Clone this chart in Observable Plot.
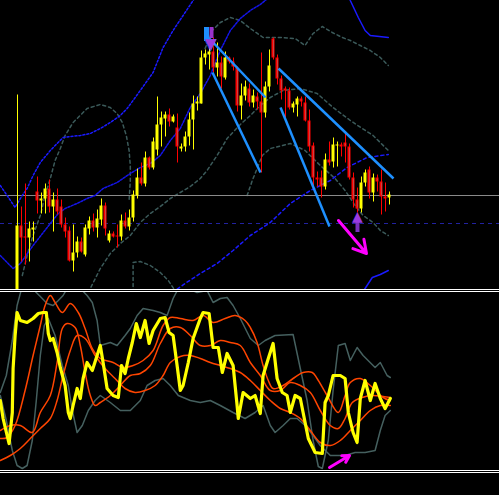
<!DOCTYPE html>
<html><head><meta charset="utf-8">
<script src="https://cdn.jsdelivr.net/npm/d3@7"></script>
<script src="https://cdn.jsdelivr.net/npm/@observablehq/plot@0.6"></script>
<style>
html,body{margin:0;padding:0;background:#000;}
#chart{width:499px;height:495px;background:#000;overflow:hidden;}
#pricePane{border-bottom:3px double #fff;height:289px;}
#oscPane{border-bottom:3px double #fff;height:178px;}
svg{display:block;}
</style></head><body>
<div id="chart"><div id="pricePane"></div><div id="oscPane"></div></div>
<script>
// ---- candles (bar index 0..93), prices in chart units ----
const openP  = [-5,74,63,62,70,108,99,101,111,93,100,93,75,69,39,47,58,45,71,79,72,80,94,59,66,64,63,79,73,82,104,122,116,142,132,150,175,181,185,178,172,151,153,163,180,196,196,242,245,248,232,237,222,242,238,232,194,204,211,197,203,198,187,213,261,242,221,211,209,192,195,201,197,179,154,122,122,113,140,138,154,155,157,153,122,100,91,117,130,107,122,118,103,102];
const highP  = [205,93,116,78,78,123,107,116,120,107,111,100,82,73,75,63,62,75,83,86,90,101,97,69,68,75,85,87,90,109,131,137,148,143,162,203,188,188,191,185,186,156,168,187,204,203,249,250,256,262,257,243,248,243,242,233,216,219,216,210,207,247,218,250,262,245,224,213,212,198,203,203,203,190,157,128,129,146,158,162,158,157,168,156,127,112,123,130,133,126,125,130,117,108];
const lowP   = [-10,38,35,38,58,86,86,86,87,68,85,72,62,38,28,42,47,43,65,68,62,74,64,57,62,52,59,71,69,78,101,114,113,130,130,144,153,163,173,177,137,148,148,154,150,189,196,235,230,227,223,211,220,236,229,188,180,199,193,192,190,127,182,208,240,215,200,182,190,187,183,193,178,148,112,113,102,110,134,132,133,143,137,120,92,87,87,113,101,98,108,85,88,95];
const closeP = [74,62,62,71,72,99,101,111,93,100,88,75,68,39,47,58,48,72,79,72,81,94,71,66,63,63,79,73,82,105,122,116,142,132,158,175,182,185,178,183,153,153,163,180,196,198,242,246,248,232,237,223,242,238,233,194,204,213,197,204,198,187,213,234,242,221,209,209,192,196,201,198,179,153,122,120,113,140,137,155,155,153,153,122,100,91,117,127,107,122,118,103,101,105];

// reference levels
const bidLevel = 105;
const dashedLevel = 77;

// price-panel bands: [bar, price]
const outerUpperA = [[-4.3,115],[-2.6,105],[-0.6,93],[0.7,102],[2.4,112],[3.9,125],[5.7,138],[8.2,150],[9.9,157],[11.4,163],[13.2,164],[15.7,165],[18.2,167],[20.7,172],[23.2,178],[25.7,185],[27.4,192],[28.9,200],[30.7,210],[33.9,228],[36.4,253],[38.9,270],[41.4,285],[43.9,300],[45.7,312]];
const outerUpperB = [[81.9,312],[83.2,300],[85.2,283],[86.9,270],[88.2,265],[92.7,263]];
const midBand = [[-4.3,45],[-1.1,32],[0.7,37],[3.9,55],[8.2,77],[10.2,87],[11.9,92],[14.9,97],[17.4,102],[19.4,105],[21.4,112],[24.9,118],[28.2,127],[30.7,133],[33.2,137],[35.7,145],[38.2,160],[40.7,172],[43.2,193],[45.7,207],[48.2,225],[50.7,250],[53.2,270],[55.7,282],[58.2,290],[60.7,296],[61.9,300],[64.4,308]];
const outerLowerA = [[38.7,8],[41.9,17],[45.7,27],[49.9,37],[53.9,50],[58.2,65],[63.2,78],[68.2,97],[73.2,110],[78.2,120],[82.4,133],[87.4,143],[92.7,146]];
const outerLowerB = [[85.7,5],[86.9,12],[88.7,23],[90.7,26],[92.7,30]];
const innerA = [[1.2,25],[2.4,45],[3.9,65],[5.7,85],[6.9,105],[8.2,122],[9.4,140],[10.7,152],[11.9,165],[13.9,178],[17.4,192],[20.7,196],[23.2,193],[24.9,187],[26.2,178],[27.2,165],[27.9,150],[28.2,135],[28.2,120],[27.9,100]];
const innerB = [[28.9,8],[28.9,38],[30.7,39],[33.2,35],[35.7,28],[37.7,20],[39.7,8]];
const innerC = [[17.7,8],[20.7,32],[23.2,47],[25.7,57],[28.2,65],[30.7,78],[33.2,87],[35.7,94],[38.2,102],[40.7,108],[43.2,114],[45.7,122],[47.4,130],[49.9,145],[52.4,162],[55.7,176],[58.2,185],[60.7,195],[63.2,203],[66.4,210],[70.7,212],[74.9,207],[78.9,193],[83.2,180],[86.2,172],[88.9,165],[92.7,150]];
const innerD = [[46.9,252],[48.7,270],[50.7,278],[53.2,283],[55.7,280],[58.2,272],[61.4,263],[65.7,263],[69.4,262],[71.9,255],[73.9,267],[76.2,274],[78.7,268],[81.2,263],[83.2,260],[85.7,255],[88.2,250],[90.7,243],[92.7,235]];
const innerE = [[57.4,105],[58.7,120],[61.2,145],[63.2,152],[68.2,157],[71.9,150],[75.7,135],[79.4,122],[81.9,110],[84.4,95],[86.4,85],[88.9,78],[90.7,70],[92.7,65]];

// trend lines drawn on the chart: [bar1, price1, bar2, price2]
const trendLines = [[47,266,62,203],[65.25,232,94,122],[48.75,228,60.75,128],[65.75,193,78,74]];
const priceArrow = [[80.25,80,87.25,47]];
const sellSignal = [{bar:48, top:273, tip:256}];
const buySignal  = [{bar:85, bottom:68, tip:84}];

// oscillator panel: [bar, value]
const oscMain = [[-4.3,70],[-3.6,52],[-2.6,35],[-2.1,27],[-1.3,58],[-1.1,102],[-0.6,135],[-0.1,158],[0.7,150],[2.4,148],[3.9,152],[5.2,157],[6.4,158],[7.2,158],[7.7,137],[8.2,130],[8.9,132],[9.9,118],[10.7,103],[11.9,85],[12.7,58],[13.2,52],[13.9,65],[14.9,82],[15.7,72],[16.4,92],[17.4,108],[18.7,100],[19.9,115],[20.7,125],[21.4,108],[22.4,82],[23.9,75],[25.2,73],[26.0,105],[26.9,97],[27.7,112],[28.7,128],[29.7,147],[30.7,133],[31.9,150],[32.9,127],[33.9,140],[35.7,152],[36.9,153],[37.9,138],[38.9,135],[39.9,105],[40.7,80],[41.4,85],[42.7,108],[43.9,132],[45.7,152],[46.4,158],[47.9,157],[48.9,123],[50.2,123],[51.2,98],[52.4,117],[53.9,105],[54.9,65],[55.2,52],[56.4,78],[58.2,72],[59.4,75],[60.7,57],[61.4,95],[62.7,112],[63.9,127],[64.9,92],[66.2,78],[67.4,75],[68.2,58],[69.4,75],[70.7,72],[71.4,58],[72.7,32],[74.4,18],[76.2,17],[76.9,68],[77.7,75],[78.9,95],[80.7,95],[81.9,92],[82.7,58],[83.9,38],[84.9,28],[85.7,72],[86.9,90],[88.2,70],[89.4,87],[90.7,72],[91.9,62],[93.2,72]];
const oscSignalFast = [[-4.3,32],[-2.6,33],[-0.6,45],[1.9,80],[3.9,115],[5.7,145],[6.9,165],[8.2,175],[9.4,168],[11.2,158],[13.2,167],[15.2,158],[16.9,142],[18.7,122],[20.7,112],[23.9,108],[26.4,103],[28.9,105],[31.4,110],[33.9,120],[36.4,145],[38.2,153],[40.7,152],[43.9,150],[46.4,155],[48.9,148],[51.9,152],[54.4,155],[56.9,150],[58.2,143],[59.9,128],[61.4,105],[62.7,90],[63.9,82],[66.4,85],[68.9,92],[71.4,98],[73.7,98],[74.9,92],[77.4,75],[80.2,58],[81.9,75],[83.2,88],[85.7,92],[88.2,85],[91.4,73],[93.2,70]];
const oscSignalMid = [[-4.3,40],[-1.8,45],[0.7,45],[3.7,38],[5.7,58],[8.2,75],[9.9,108],[11.2,142],[12.4,147],[14.4,143],[15.7,125],[16.9,98],[18.2,75],[19.4,65],[20.7,68],[23.2,75],[25.7,85],[28.2,95],[30.7,97],[33.2,105],[35.7,127],[38.2,142],[40.7,143],[43.2,135],[45.7,125],[48.2,125],[50.7,130],[53.2,128],[55.7,125],[58.2,108],[60.7,95],[63.2,80],[65.7,80],[68.2,88],[70.7,85],[73.2,78],[75.7,60],[78.2,45],[80.2,42],[81.9,52],[83.7,68],[86.2,73],[88.7,75],[93.2,73]];
const oscSignalSlow = [[-4.3,10],[-1.8,15],[0.7,22],[3.2,32],[5.7,42],[8.2,52],[9.9,70],[11.4,95],[13.2,120],[14.9,135],[16.9,132],[19.4,115],[21.9,102],[24.4,92],[26.9,82],[29.4,78],[31.9,80],[34.4,85],[36.4,95],[38.2,108],[40.7,114],[43.2,115],[45.7,112],[48.2,108],[50.7,105],[53.2,102],[55.7,98],[58.2,90],[60.7,80],[63.2,70],[65.7,62],[68.2,58],[70.7,52],[73.2,40],[75.7,28],[78.2,25],[80.7,30],[83.2,40],[85.7,50],[88.2,60],[90.7,65],[93.2,65]];
const oscBandUpper = [[-4.3,78],[-2.8,95],[-1.3,130],[-0.1,165],[0.9,180],[2.2,187],[3.7,182],[5.7,174],[7.4,167],[8.9,165],[10.2,170],[11.4,175],[12.4,182],[13.7,186],[15.7,182],[17.4,175],[18.7,168],[19.9,150],[20.7,125],[23.2,128],[24.9,125],[26.9,135],[28.2,142],[29.9,155],[31.4,162],[33.9,160],[35.7,158],[37.4,155],[38.9,172],[40.2,182],[41.9,184],[43.7,180],[44.9,178],[47.4,180],[48.9,168],[50.7,172],[52.4,173],[53.9,165],[55.7,152],[58.2,132],[60.2,125],[61.9,130],[64.4,135],[68.9,136],[70.7,102],[72.4,70],[73.9,30],[75.2,4],[76.2,2],[77.7,30],[78.9,80],[80.2,125],[81.9,127],[83.2,110],[84.9,123],[86.4,115],[89.4,103],[90.7,108],[92.4,95],[93.2,93]];
const oscBandLower = [[-4.3,75],[-2.8,50],[-1.3,20],[-0.1,5],[1.2,2],[2.4,5],[3.7,30],[4.7,70],[5.7,115],[6.7,145],[7.7,152],[9.4,135],[11.2,105],[12.7,85],[13.7,60],[14.9,38],[16.2,45],[17.7,60],[19.4,70],[20.7,75],[23.2,68],[25.7,60],[28.2,60],[30.7,70],[32.4,85],[34.4,90],[36.4,92],[38.2,85],[40.2,75],[43.2,70],[45.7,68],[48.2,70],[50.7,65],[53.9,58],[56.9,52],[59.4,58],[61.4,65],[63.2,45],[64.4,38],[66.4,45],[68.2,52],[69.9,52],[71.9,45],[73.9,35],[75.7,25],[78.2,15],[80.2,15],[81.9,15],[84.4,18],[86.9,18],[89.4,20],[90.7,40],[91.9,55],[93.2,60]];
const oscArrow = [[78,3,83,15]];

// ---- build ----
const candles = openP.map((o, i) => ({i, o, h: highP[i], l: lowP[i], c: closeP[i]}));
const bull = candles.filter(d => d.c >= d.o);
const bear = candles.filter(d => d.c < d.o);
const bodyLo = d => Math.min(d.o, d.c);
const bodyHi = d => Math.max(Math.max(d.o, d.c), Math.min(d.o, d.c) + 1);

const X = {domain: [-4.25, 120.5], axis: null};
const grey = "#3b5a5a";
const ln = (data, o) => Plot.line(data, {x: "0", y: "1", clip: true, ...o});
const seg = (data, o) => Plot.link(data, {x1: "0", y1: "1", x2: "2", y2: "3", clip: true, ...o});

const priceChart = Plot.plot({
  width: 499, height: 289, margin: 0,
  x: X, y: {domain: [11, 300], axis: null},
  style: {background: "#000"},
  marks: [
    ln(innerA, {stroke: grey, strokeDasharray: "3,3"}),
    ln(innerB, {stroke: grey, strokeDasharray: "3,3"}),
    ln(innerC, {stroke: grey, strokeDasharray: "3,3"}),
    ln(innerD, {stroke: grey, strokeDasharray: "3,3"}),
    ln(innerE, {stroke: grey, strokeDasharray: "3,3"}),
    Plot.ruleY([bidLevel], {stroke: "#8a8a8a"}),
    Plot.ruleY([dashedLevel], {stroke: "#2222a0", strokeDasharray: "4,4"}),
    ln(outerUpperA, {stroke: "#1a1aff", strokeDasharray: "2,2"}),
    ln(outerUpperB, {stroke: "#1a1aff"}),
    ln(midBand, {stroke: "#1414e8", strokeDasharray: "2,1.5"}),
    ln(outerLowerA, {stroke: "#1a1aff", strokeDasharray: "3,3"}),
    ln(outerLowerB, {stroke: "#1a1aff"}),
    Plot.ruleX(bull, {x: "i", y1: "l", y2: "h", stroke: "#ffff00", dy: -0.5, clip: true}),
    Plot.ruleX(bear, {x: "i", y1: "l", y2: "h", stroke: "#ff0000", dy: -0.5, clip: true}),
    Plot.rect(bull, {x1: d => d.i - 0.375, x2: d => d.i + 0.375, y1: bodyLo, y2: bodyHi, fill: "#ffff00", dy: -0.5, clip: true}),
    Plot.rect(bear, {x1: d => d.i - 0.375, x2: d => d.i + 0.375, y1: bodyLo, y2: bodyHi, fill: "#ff0000", dy: -0.5, clip: true}),
    Plot.ruleX(bear.filter(d => d.o - d.c > 2), {x: "i", y1: d => d.c + 1, y2: d => d.o - 1, stroke: "#c84444", dy: -0.5}),
    seg(trendLines, {stroke: "#1e90ff", strokeWidth: 2.5}),
    Plot.arrow(priceArrow, {x1: "0", y1: "1", x2: "2", y2: "3", stroke: "#ff00ff", strokeWidth: 3, headLength: 12}),
    Plot.ruleX(sellSignal, {x: "bar", y1: "top", y2: d => d.tip + 3, stroke: "#1e90ff", strokeWidth: 5, dx: -3}),
    Plot.ruleX(sellSignal, {x: "bar", y1: "top", y2: d => d.tip + 6, stroke: "#9932cc", strokeWidth: 4, dx: 2}),
    Plot.text(sellSignal, {x: "bar", y: "tip", text: () => "\u25BC", fill: "#9a3be0", stroke: "#1e90ff", strokeWidth: 0.6, fontSize: 15, fontFamily: "DejaVu Sans", dx: 1}),
    Plot.ruleX(buySignal, {x: "bar", y1: "bottom", y2: d => d.tip - 6, stroke: "#7b2fbe", strokeWidth: 4}),
    Plot.text(buySignal, {x: "bar", y: "tip", text: () => "\u25B2", fill: "#9a3be0", fontSize: 14, fontFamily: "DejaVu Sans"})
  ]
});

const oscChart = Plot.plot({
  width: 499, height: 178, margin: 0,
  x: X, y: {domain: [0, 178], axis: null},
  style: {background: "#000"},
  marks: [
    ln(oscBandUpper, {stroke: "#45605f"}),
    ln(oscBandLower, {stroke: "#45605f"}),
    ln(oscSignalSlow, {stroke: "#ff4500", curve: "catmull-rom"}),
    ln(oscSignalMid, {stroke: "#ff4500", curve: "catmull-rom"}),
    ln(oscSignalFast, {stroke: "#ff4500", curve: "catmull-rom"}),
    ln(oscMain, {stroke: "#ffff00", strokeWidth: 3.2, strokeLinejoin: "round"}),
    Plot.arrow(oscArrow, {x1: "0", y1: "1", x2: "2", y2: "3", stroke: "#ff00ff", strokeWidth: 3, headLength: 10})
  ]
});

document.getElementById("pricePane").appendChild(priceChart);
document.getElementById("oscPane").appendChild(oscChart);
</script>
</body></html>
